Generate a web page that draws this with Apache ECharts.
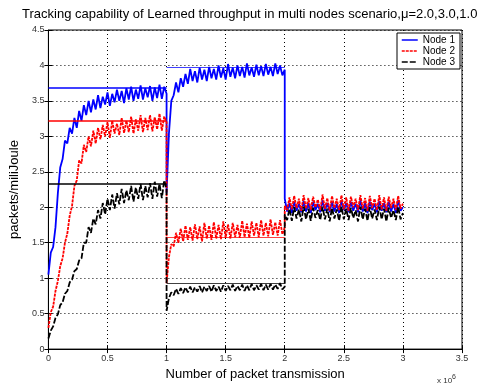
<!DOCTYPE html>
<html>
<head>
<meta charset="utf-8">
<script src="https://cdn.jsdelivr.net/npm/echarts@6/dist/echarts.min.js"></script>
<style>
  html, body { margin: 0; padding: 0; background: #fff; }
  #chart { width: 487px; height: 386px; }
</style>
</head>
<body>
<div id="chart"></div>
<script>
// samples every 0.02 (x 10^6 packets), one array per phase of the scenario
var phaseStarts = [0, 1, 2];
var step = 0.02;
var seriesNames = ['Node 1', 'Node 2', 'Node 3'];

var node1Phase1 = [
  1.05, 1.36, 1.44, 1.72, 2.2, 2.56, 2.68, 2.94, 2.9, 3.12,
  3.04, 3.26, 3.12, 3.36, 3.22, 3.44, 3.3, 3.5, 3.34, 3.52,
  3.38, 3.58, 3.4, 3.56, 3.45, 3.62, 3.43, 3.6, 3.48, 3.66,
  3.5, 3.64, 3.47, 3.68, 3.52, 3.7, 3.5, 3.66, 3.53, 3.72,
  3.52, 3.68, 3.55, 3.71, 3.5, 3.69, 3.54, 3.73, 3.53, 3.7,
  3.6
];
var node1Phase2 = [
  2.2, 3.04, 3.5, 3.58, 3.76, 3.62, 3.82, 3.7, 3.88, 3.74,
  3.95, 3.78, 3.92, 3.76, 3.97, 3.8, 3.94, 3.78, 3.98, 3.82,
  3.95, 3.8, 4.0, 3.83, 3.96, 3.8, 4.02, 3.84, 3.97, 3.82,
  4.0, 3.85, 3.98, 3.83, 4.03, 3.86, 3.97, 3.84, 4.01, 3.86,
  3.99, 3.85, 4.02, 3.87, 3.98, 3.85, 4.03, 3.88, 4.0, 3.86,
  3.94
];
var node1Phase3 = [
  2.12, 1.94, 2.06, 1.92, 2.08, 1.95, 2.05, 1.93, 2.09, 1.94,
  2.06, 1.92, 2.08, 1.96, 2.05, 1.93, 2.1, 1.95, 2.06, 1.93,
  2.08, 1.94, 2.05, 1.92, 2.09, 1.96, 2.06, 1.93, 2.08, 1.95,
  2.05, 1.93, 2.1, 1.94, 2.06, 1.92, 2.08, 1.96, 2.05, 1.93,
  2.09, 1.95, 2.06, 1.93, 2.08, 1.94, 2.05, 1.92, 2.1, 1.95,
  2.0
];

var node2Phase1 = [
  0.3, 0.52, 0.6, 0.82, 0.96, 1.17, 1.28, 1.5, 1.63, 1.88,
  2.02, 2.3, 2.38, 2.66, 2.62, 2.88, 2.78, 3.0, 2.86, 3.08,
  2.9, 3.12, 2.96, 3.16, 3.0, 3.2, 2.98, 3.22, 3.04, 3.18,
  3.02, 3.26, 3.05, 3.22, 3.06, 3.28, 3.04, 3.24, 3.08, 3.3,
  3.06, 3.26, 3.09, 3.3, 3.07, 3.27, 3.1, 3.32, 3.08, 3.28,
  3.2
];
var node2Phase2 = [
  0.93, 1.3, 1.48, 1.45, 1.64, 1.5, 1.7, 1.52, 1.74, 1.54,
  1.72, 1.53, 1.76, 1.55, 1.73, 1.52, 1.78, 1.56, 1.74, 1.54,
  1.79, 1.56, 1.75, 1.55, 1.8, 1.57, 1.76, 1.56, 1.78, 1.58,
  1.75, 1.57, 1.81, 1.58, 1.77, 1.57, 1.8, 1.6, 1.78, 1.58,
  1.82, 1.6, 1.78, 1.59, 1.83, 1.61, 1.79, 1.6, 1.82, 1.62,
  1.72
];
var node2Phase3 = [
  2.02, 1.96, 2.14, 1.97, 2.16, 1.99, 2.12, 1.95, 2.17, 1.98,
  2.13, 1.96, 2.15, 2.0, 2.11, 1.96, 2.18, 1.98, 2.13, 1.95,
  2.16, 1.99, 2.12, 1.96, 2.17, 1.97, 2.14, 1.95, 2.15, 2.0,
  2.12, 1.96, 2.17, 1.98, 2.13, 1.95, 2.16, 1.99, 2.12, 1.96,
  2.17, 1.97, 2.14, 1.95, 2.15, 1.99, 2.12, 1.96, 2.16, 1.98,
  2.05
];

var node3Phase1 = [
  0.15, 0.26, 0.32, 0.44, 0.49, 0.62, 0.66, 0.78, 0.82, 0.94,
  0.98, 1.1, 1.13, 1.25, 1.28, 1.5, 1.5, 1.72, 1.64, 1.84,
  1.76, 1.96, 1.84, 2.06, 1.9, 2.12, 1.96, 2.18, 1.98, 2.2,
  2.04, 2.26, 2.06, 2.24, 2.1, 2.3, 2.08, 2.28, 2.12, 2.33,
  2.1, 2.3, 2.14, 2.34, 2.12, 2.36, 2.15, 2.33, 2.13, 2.38,
  2.26
];
var node3Phase2 = [
  0.54, 0.72, 0.8, 0.76, 0.85, 0.78, 0.86, 0.79, 0.87, 0.8,
  0.88, 0.8, 0.87, 0.81, 0.89, 0.8, 0.88, 0.82, 0.89, 0.81,
  0.9, 0.82, 0.88, 0.81, 0.9, 0.82, 0.89, 0.83, 0.91, 0.82,
  0.89, 0.83, 0.91, 0.82, 0.9, 0.83, 0.92, 0.83, 0.9, 0.84,
  0.92, 0.83, 0.91, 0.84, 0.92, 0.84, 0.91, 0.85, 0.93, 0.84,
  0.88
];
var node3Phase3 = [
  1.9, 1.82, 1.98, 1.81, 2.0, 1.84, 1.97, 1.8, 2.01, 1.83,
  1.98, 1.81, 1.99, 1.85, 1.96, 1.82, 2.01, 1.83, 1.98, 1.8,
  1.99, 1.84, 1.97, 1.81, 2.01, 1.83, 1.98, 1.82, 1.99, 1.85,
  1.96, 1.8, 2.01, 1.83, 1.98, 1.81, 2.0, 1.84, 1.97, 1.82,
  2.01, 1.83, 1.98, 1.8, 1.99, 1.85, 1.96, 1.82, 2.01, 1.83,
  1.92
];

// optimal throughput per node for phase 1 and phase 2
var node1Optimal = [3.68, 3.98];
var node2Optimal = [3.22, 1.58];
var node3Optimal = [2.33, 0.93];

var colors = ['#0000ff', '#ff0000', '#000000'];
var lineTypes = ['solid', [3, 1], [6, 2]];
var FONT = '"Liberation Sans", Arial, Helvetica, sans-serif';

function toPairs(phases) {
  var out = [];
  phases.forEach(function (vals, p) {
    vals.forEach(function (v, i) {
      out.push([+(phaseStarts[p] + i * step).toFixed(2), v]);
    });
  });
  return out;
}

function optimalLines(vals, color) {
  return vals.map(function (v, p) {
    return [
      { coord: [phaseStarts[p], v], lineStyle: { color: color, width: p === 0 ? 1.5 : 1, type: 'solid', opacity: p === 0 ? 1 : 0.75 } },
      { coord: [phaseStarts[p] + 1, v] }
    ];
  });
}

var nodeData = [
  toPairs([node1Phase1, node1Phase2, node1Phase3]),
  toPairs([node2Phase1, node2Phase2, node2Phase3]),
  toPairs([node3Phase1, node3Phase2, node3Phase3])
];
var optimal = [node1Optimal, node2Optimal, node3Optimal];

var chartDom = document.getElementById('chart');
var myChart = echarts.init(chartDom, null, { renderer: 'canvas' });

var series = seriesNames.map(function (name, k) {
  return {
    name: name,
    type: 'line',
    data: nodeData[k],
    symbol: 'none',
    silent: true,
    animation: false,
    color: colors[k],
    lineStyle: { color: colors[k], width: 1.8, type: lineTypes[k] },
    markLine: {
      silent: true,
      symbol: 'none',
      label: { show: false },
      animation: false,
      data: optimalLines(optimal[k], colors[k])
    }
  };
});

var option = {
  backgroundColor: '#fff',
  animation: false,
  textStyle: { fontFamily: FONT },
  title: {
    text: 'Tracking capability of Learned throughput in multi nodes scenario,\u03bc=2.0,3.0,1.0',
    left: 22,
    top: 8,
    padding: 0,
    textStyle: { fontSize: 13, fontWeight: 'normal', color: '#000', fontFamily: FONT }
  },
  legend: {
    data: seriesNames,
    orient: 'vertical',
    right: 27,
    top: 33,
    backgroundColor: '#fff',
    borderColor: '#000',
    borderWidth: 1,
    borderRadius: 0,
    padding: [2, 5, 2, 4],
    itemWidth: 16,
    itemHeight: 8,
    itemGap: 1,
    itemStyle: { color: 'transparent', borderColor: 'transparent', borderWidth: 0 },
    lineStyle: { width: 1.5 },
    textStyle: { fontSize: 10, color: '#000', fontFamily: FONT, lineHeight: 10 }
  },
  grid: {
    left: 44,
    right: 25,
    top: 30,
    bottom: 29,
    show: true,
    borderColor: '#000',
    borderWidth: 1,
    containLabel: false
  },
  xAxis: [{
    type: 'value',
    min: 0,
    max: 3.5,
    interval: 0.5,
    name: 'Number of packet transmission',
    nameLocation: 'middle',
    nameGap: 17,
    nameTextStyle: { fontSize: 13, color: '#000', fontFamily: FONT },
    axisLine: { show: true, lineStyle: { color: '#000', width: 1 } },
    axisTick: { show: true, inside: true, length: 4, lineStyle: { color: '#000' } },
    axisLabel: { fontSize: 9, color: '#333', margin: 5, fontFamily: FONT },
    splitLine: { show: true, lineStyle: { color: '#000', width: 1, type: [1, 3] } }
  }, {
    type: 'value',
    position: 'top',
    min: 0,
    max: 3.5,
    interval: 0.5,
    axisLine: { show: false },
    axisTick: { show: true, inside: true, length: 4, lineStyle: { color: '#000' } },
    axisLabel: { show: false },
    splitLine: { show: false }
  }],
  yAxis: [{
    type: 'value',
    min: 0,
    max: 4.5,
    interval: 0.5,
    name: 'packets/miliJoule',
    nameLocation: 'middle',
    nameGap: 22,
    nameTextStyle: { fontSize: 13, color: '#000', fontFamily: FONT },
    axisLine: { show: true, lineStyle: { color: '#000', width: 1 } },
    axisTick: { show: true, inside: true, length: 4, lineStyle: { color: '#000' } },
    axisLabel: { fontSize: 9, color: '#333', margin: 4, fontFamily: FONT },
    splitLine: { show: true, lineStyle: { color: '#000', width: 1, type: [1, 3] } }
  }, {
    type: 'value',
    position: 'right',
    min: 0,
    max: 4.5,
    interval: 0.5,
    axisLine: { show: false },
    axisTick: { show: true, inside: true, length: 4, lineStyle: { color: '#000' } },
    axisLabel: { show: false },
    splitLine: { show: false }
  }],
  graphic: [{
    type: 'text',
    left: 437,
    top: 374,
    style: {
      text: 'x 10{s|6}',
      font: '8px ' + FONT,
      fill: '#333',
      rich: { s: { fontSize: 7, verticalAlign: 'top', padding: [0, 0, 6, 0] } }
    }
  }],
  series: series
};

myChart.setOption(option);

window.addEventListener('resize', function () {
  myChart.resize();
});
</script>
</body>
</html>
